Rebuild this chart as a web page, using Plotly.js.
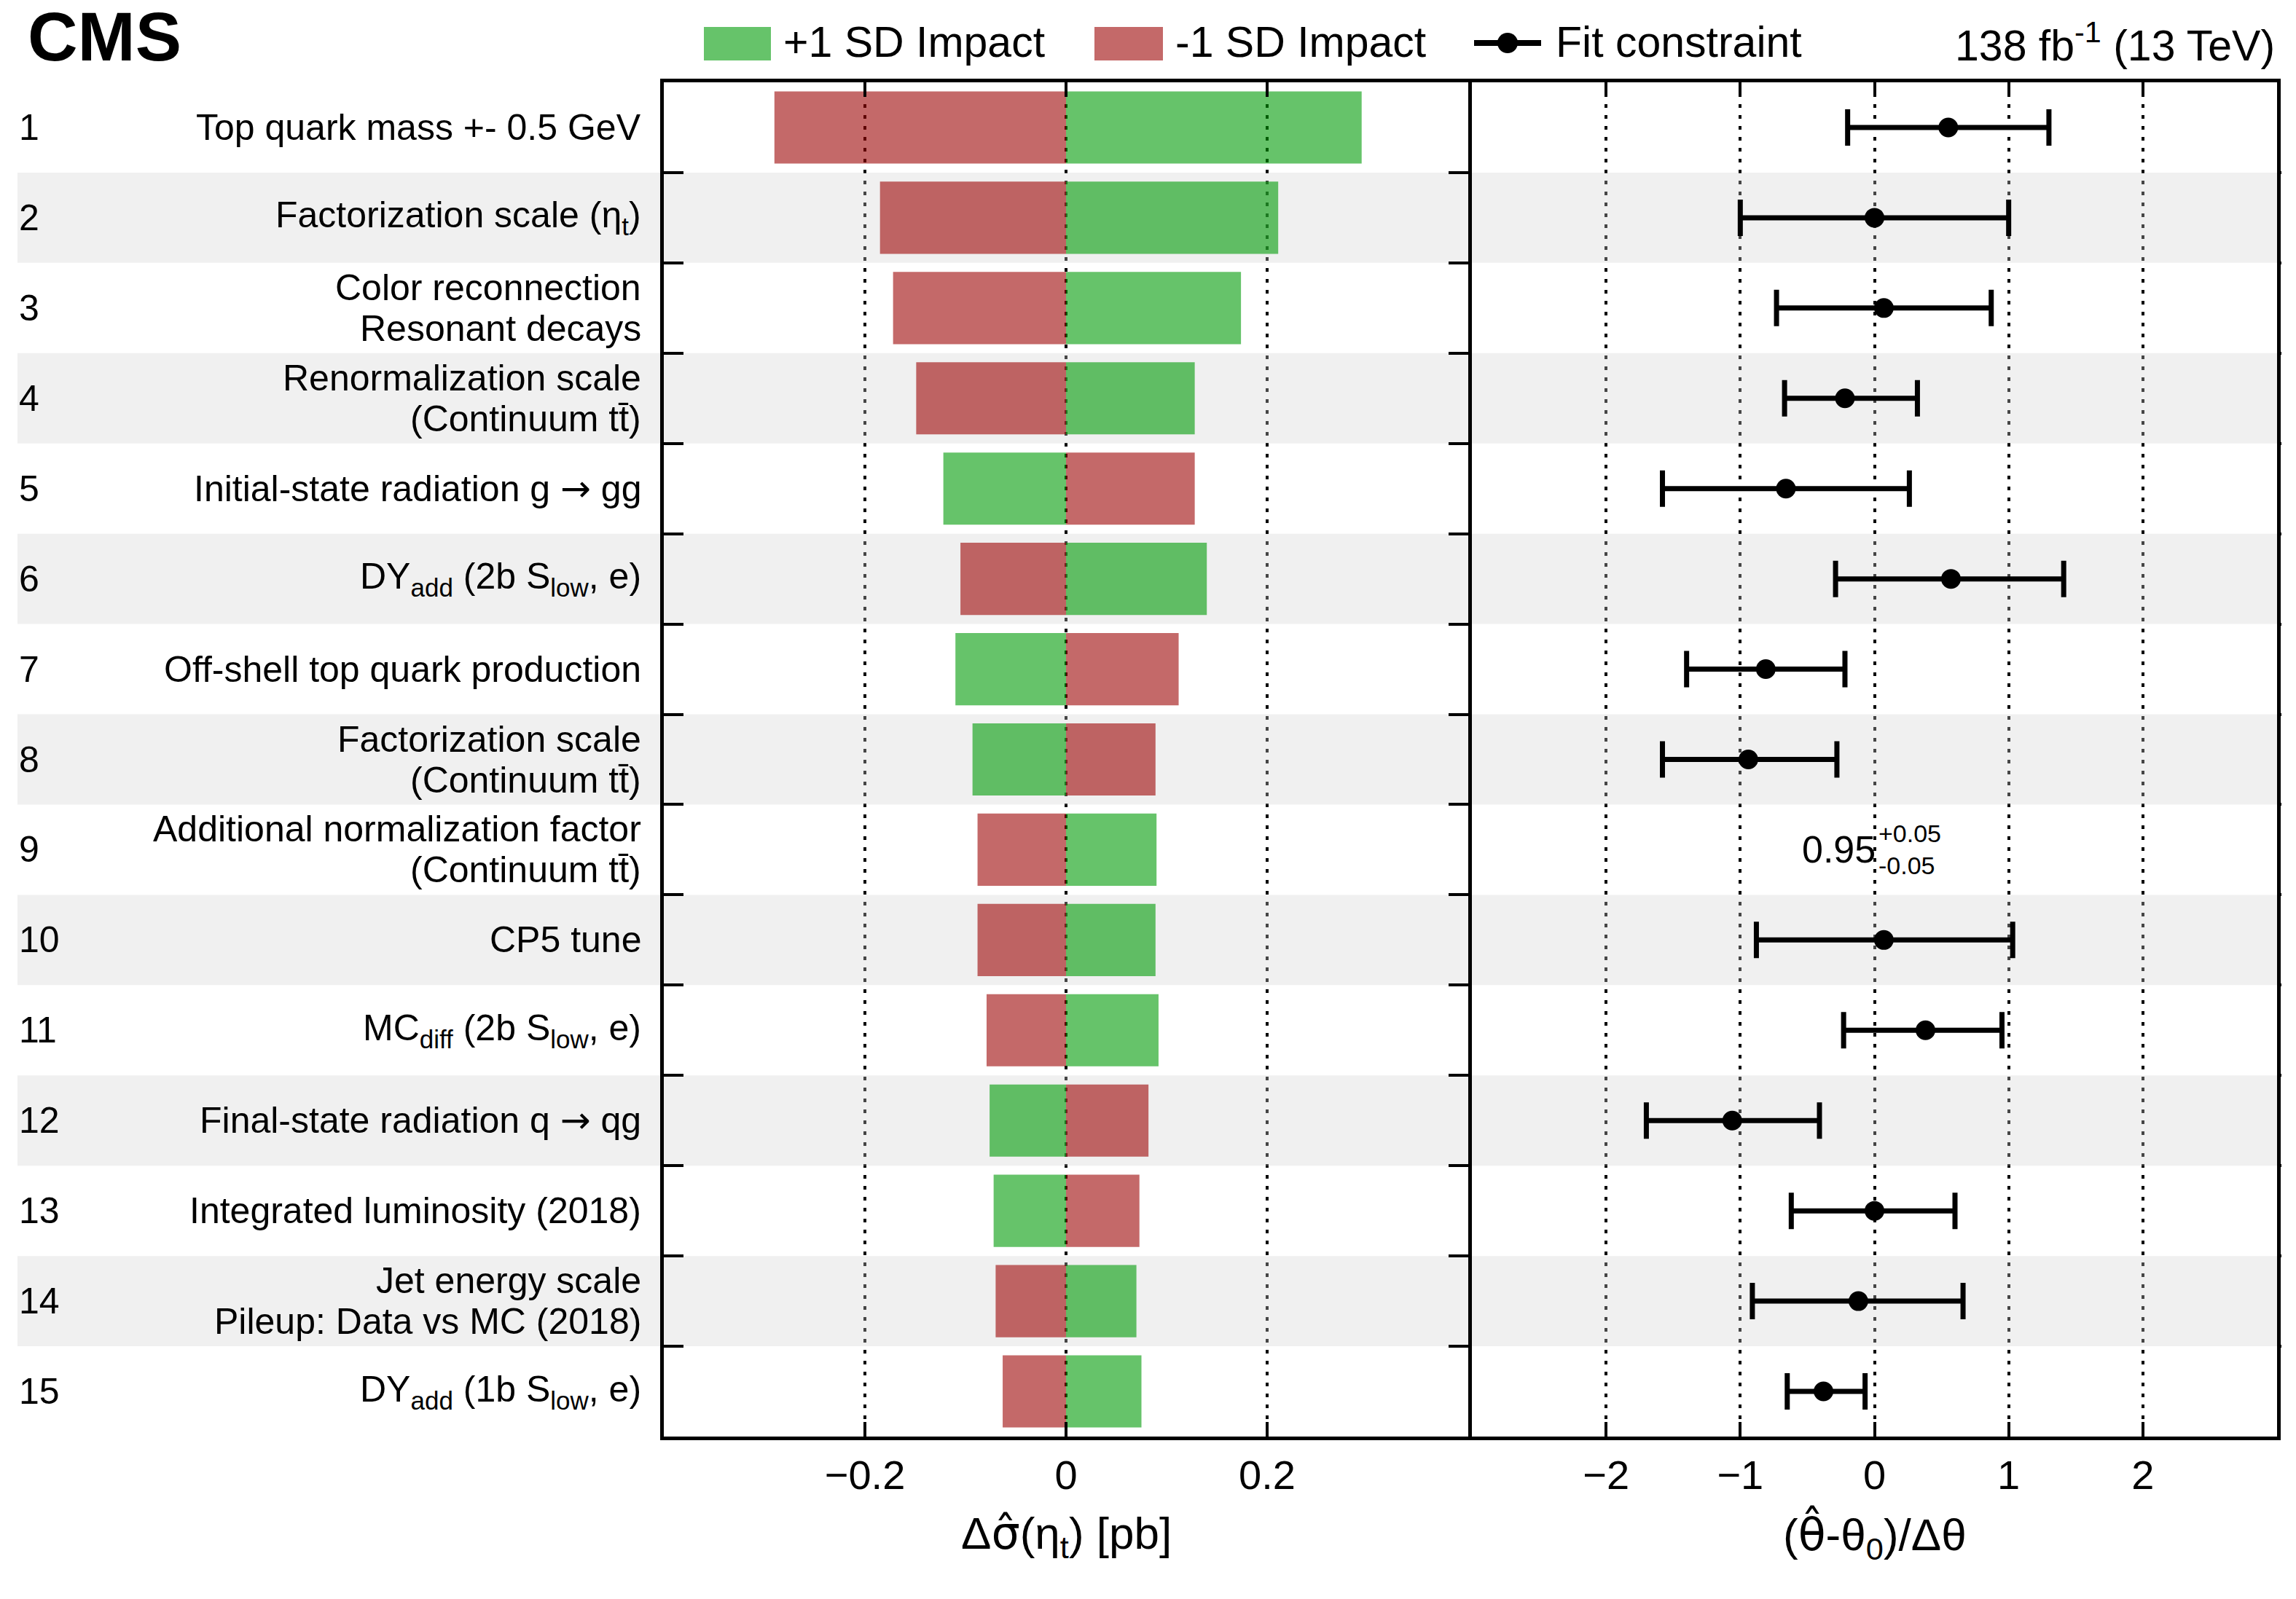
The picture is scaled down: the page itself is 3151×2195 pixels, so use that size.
<!DOCTYPE html>
<html>
<head>
<meta charset="utf-8">
<script src="https://cdn.plot.ly/plotly-3.0.1.min.js"></script>
<style>
  body { margin: 0; background: #fff; }
  #impacts { width: 3151px; height: 2195px; }
</style>
</head>
<body>
<div id="impacts"></div>
<script>
// nuisance parameters, ranked by impact (row 1 = top)
var ARROW = '<span style="font-family:DejaVu Sans">→</span>';
var labels = [
    'Top quark mass +- 0.5 GeV',
    'Factorization scale (η<sub>t</sub>)',
    'Color reconnection<br>Resonant decays',
    'Renormalization scale<br>(Continuum tt\u0304)',
    'Initial-state radiation g ' + ARROW + ' gg',
    'DY<sub>add</sub> (2b S<sub>low</sub>, e)',
    'Off-shell top quark production',
    'Factorization scale<br>(Continuum tt\u0304)',
    'Additional normalization factor<br>(Continuum tt\u0304)',
    'CP5 tune',
    'MC<sub>diff</sub> (2b S<sub>low</sub>, e)',
    'Final-state radiation q ' + ARROW + ' qg',
    'Integrated luminosity (2018)',
    'Jet energy scale<br>Pileup: Data vs MC (2018)',
    'DY<sub>add</sub> (1b S<sub>low</sub>, e)'
];
var rows = [1, 2, 3, 4, 5, 6, 7, 8, 9, 10, 11, 12, 13, 14, 15];

// impact on the cross section [pb]
var impactUp   = [0.294, 0.211, 0.174, 0.128, -0.122, 0.140, -0.110, -0.093, 0.090, 0.089, 0.092, -0.076, -0.072, 0.070, 0.075];
var impactDown = [-0.290, -0.185, -0.172, -0.149, 0.128, -0.105, 0.112, 0.089, -0.088, -0.088, -0.079, 0.082, 0.073, -0.070, -0.063];

// pulls (theta_hat - theta0)/dtheta with their lower and upper edges
var pull   = [0.55, 0.00, 0.07, -0.22, -0.66, 0.57, -0.81, -0.94, null, 0.07, 0.38, -1.06, 0.00, -0.12, -0.38];
var pullLo = [-0.20, -1.00, -0.73, -0.67, -1.58, -0.29, -1.40, -1.58, null, -0.88, -0.23, -1.70, -0.62, -0.91, -0.65];
var pullHi = [1.30, 1.00, 0.87, 0.32, 0.26, 1.41, -0.22, -0.28, null, 1.03, 0.95, -0.41, 0.60, 0.66, -0.07];

// row 9 is a free normalization: fitted value instead of a pull
var normRow = 9;
var normVal = '0.95', normUp = '+0.05', normDown = '-0.05';

// axis ticks
var impactTicks = [-0.2, 0, 0.2];
var impactTickText = ['−0.2', '0', '0.2'];
var pullTicks = [-2, -1, 0, 1, 2];
var pullTickText = ['−2', '−1', '0', '1', '2'];
var rowEdges = [1.5, 2.5, 3.5, 4.5, 5.5, 6.5, 7.5, 8.5, 9.5, 10.5, 11.5, 12.5, 13.5, 14.5];

var green = 'rgba(0,155,7,0.6)';
var red = 'rgba(157,5,5,0.6)';
var band = 'rgba(210,210,210,0.333)';
var font = 'Liberation Sans, Arial, Helvetica, sans-serif';

// plot area in pixels, used to place the decorations in paper units
var L = 911, R = 3125, T = 113, B = 1972;
function px(x) { return (x - L) / (R - L); }
function py(y) { return (B - y) / (B - T); }

createPlot();

function createPlot() {
    var up = {
        type: 'bar', orientation: 'h',
        x: impactUp, y: rows, width: 0.8,
        marker: { color: green, line: { width: 0 } },
        xaxis: 'x', yaxis: 'y', hoverinfo: 'x'
    };
    var down = {
        type: 'bar', orientation: 'h',
        x: impactDown, y: rows, width: 0.8,
        marker: { color: red, line: { width: 0 } },
        xaxis: 'x', yaxis: 'y', hoverinfo: 'x'
    };
    var pulls = {
        type: 'scatter', mode: 'markers',
        x: pull, y: rows,
        marker: { color: 'black', size: 27 },
        error_x: {
            type: 'data', symmetric: false,
            array: pull.map(function (v, i) { return v === null ? null : pullHi[i] - v; }),
            arrayminus: pull.map(function (v, i) { return v === null ? null : v - pullLo[i]; }),
            color: 'black', thickness: 7, width: 25
        },
        xaxis: 'x2', yaxis: 'y', cliponaxis: false
    };

    var shapes = [];
    var annotations = [];
    var labFont = { family: font, size: 50, color: 'black' };

    rows.forEach(function (r, i) {
        if (r % 2 === 0) {
            shapes.push({ type: 'rect', xref: 'paper', yref: 'y', x0: px(24), x1: 0, y0: r - 0.5, y1: r + 0.5,
                fillcolor: '#f0f0f0', line: { width: 0 }, layer: 'below' });
            shapes.push({ type: 'rect', xref: 'x', yref: 'y', x0: -0.4, x1: 0.4, y0: r - 0.5, y1: r + 0.5,
                fillcolor: band, line: { width: 0 }, layer: 'between' });
            shapes.push({ type: 'rect', xref: 'x2', yref: 'y', x0: -3, x1: 3, y0: r - 0.5, y1: r + 0.5,
                fillcolor: band, line: { width: 0 }, layer: 'between' });
        }
        annotations.push({ xref: 'paper', yref: 'y', x: px(24), y: r, xanchor: 'left', yanchor: 'middle',
            text: String(r), showarrow: false, font: labFont });
        // two-line labels are set as two texts to get the tighter line spacing
        var parts = labels[i].split('<br>');
        parts.forEach(function (p, k) {
            var shift = parts.length === 1 ? 0 : (k === 0 ? 28 : -28);
            annotations.push({ xref: 'paper', yref: 'y', x: px(882), y: r, yshift: shift,
                xanchor: 'right', yanchor: 'middle', align: 'right',
                text: p, showarrow: false, font: labFont });
        });
    });

    // keep the margin right of the frame white
    shapes.push({ type: 'rect', xref: 'paper', yref: 'paper', x0: px(3131), x1: px(3151), y0: 0, y1: 1,
        fillcolor: 'white', line: { width: 0 }, layer: 'above' });

    // fitted normalization text
    annotations.push({ xref: 'x2', yref: 'y', x: 0.02, y: normRow, xanchor: 'right', yanchor: 'middle',
        text: normVal, showarrow: false, font: { family: font, size: 52, color: 'black' } });
    annotations.push({ xref: 'x2', yref: 'y', x: 0.02, y: normRow, yshift: 22, xanchor: 'left', yanchor: 'middle',
        text: normUp, showarrow: false, font: { family: font, size: 34, color: 'black' } });
    annotations.push({ xref: 'x2', yref: 'y', x: 0.02, y: normRow, yshift: -22, xanchor: 'left', yanchor: 'middle',
        text: normDown, showarrow: false, font: { family: font, size: 34, color: 'black' } });

    // legend, drawn by hand so the swatches keep their size
    shapes.push({ type: 'rect', xref: 'paper', yref: 'paper', x0: px(966), x1: px(1058), y0: py(83), y1: py(37),
        fillcolor: green, line: { width: 0 } });
    shapes.push({ type: 'rect', xref: 'paper', yref: 'paper', x0: px(1502), x1: px(1596), y0: py(83), y1: py(37),
        fillcolor: red, line: { width: 0 } });
    shapes.push({ type: 'line', xref: 'paper', yref: 'paper', x0: px(2023), x1: px(2115), y0: py(59), y1: py(59),
        line: { color: 'black', width: 8 } });
    shapes.push({ type: 'circle', xref: 'paper', yref: 'paper', x0: px(2055), x1: px(2083), y0: py(73), y1: py(45),
        fillcolor: 'black', line: { width: 0 } });

    var legFont = { family: font, size: 59, color: 'black' };
    annotations.push({ xref: 'paper', yref: 'paper', x: px(1073), y: py(58), xanchor: 'left', yanchor: 'middle',
        text: '+1 SD Impact', showarrow: false, font: legFont });
    annotations.push({ xref: 'paper', yref: 'paper', x: px(1611), y: py(58), xanchor: 'left', yanchor: 'middle',
        text: '-1 SD Impact', showarrow: false, font: legFont });
    annotations.push({ xref: 'paper', yref: 'paper', x: px(2133), y: py(58), xanchor: 'left', yanchor: 'middle',
        text: 'Fit constraint', showarrow: false, font: legFont });
    annotations.push({ xref: 'paper', yref: 'paper', x: px(3124), y: py(58), xanchor: 'right', yanchor: 'middle',
        text: '138 fb<sup>-1</sup> (13 TeV)', showarrow: false, font: legFont });
    annotations.push({ xref: 'paper', yref: 'paper', x: px(36), y: py(50), xanchor: 'left', yanchor: 'middle',
        text: '<b>CMS</b>', showarrow: false, font: { family: font, size: 95, color: 'black' } });

    // axis titles
    annotations.push({ xref: 'x', yref: 'paper', x: 0, y: py(2108), xanchor: 'center', yanchor: 'middle',
        text: 'Δ<span style="font-family:DejaVu Sans">σ\u0302</span>(η<sub>t</sub>) [pb]',
        showarrow: false, font: { family: font, size: 62, color: 'black' } });
    annotations.push({ xref: 'x2', yref: 'paper', x: 0, y: py(2108), xanchor: 'center', yanchor: 'middle',
        text: '(<span style="font-family:DejaVu Sans">θ\u0302</span>-θ<sub>0</sub>)/Δθ',
        showarrow: false, font: { family: font, size: 62, color: 'black' } });

    var xcommon = {
        showline: true, linecolor: 'black', linewidth: 5, mirror: 'ticks',
        ticks: 'inside', ticklen: 20, tickwidth: 4, tickcolor: 'black',
        showgrid: true, gridcolor: 'black', gridwidth: 4, griddash: '5px,10px',
        zeroline: false, tickmode: 'array', fixedrange: true,
        tickfont: { family: font, size: 56, color: 'black' }
    };

    var layout = {
        width: 3151, height: 2195,
        margin: { l: L, r: 3151 - R, t: T, b: 2195 - B },
        paper_bgcolor: 'white', plot_bgcolor: 'rgba(0,0,0,0)',
        showlegend: false, barmode: 'overlay',
        xaxis: Object.assign({}, xcommon, {
            domain: [0, px(2015)], range: [-0.4, 0.4],
            tickvals: impactTicks, ticktext: impactTickText
        }),
        xaxis2: Object.assign({}, xcommon, {
            domain: [px(2020), 1], range: [-3, 3], anchor: 'y',
            tickvals: pullTicks, ticktext: pullTickText
        }),
        yaxis: {
            range: [15.5, 0.5], fixedrange: true,
            showline: true, linecolor: 'black', linewidth: 5, mirror: 'allticks',
            ticks: 'inside', ticklen: 27, tickwidth: 4, tickcolor: 'black',
            tickmode: 'array', tickvals: rowEdges, showticklabels: false,
            showgrid: false, zeroline: false
        },
        shapes: shapes,
        annotations: annotations
    };

    Plotly.newPlot(document.getElementById('impacts'), [up, down, pulls], layout, { displayModeBar: false });
}
</script>
</body>
</html>
